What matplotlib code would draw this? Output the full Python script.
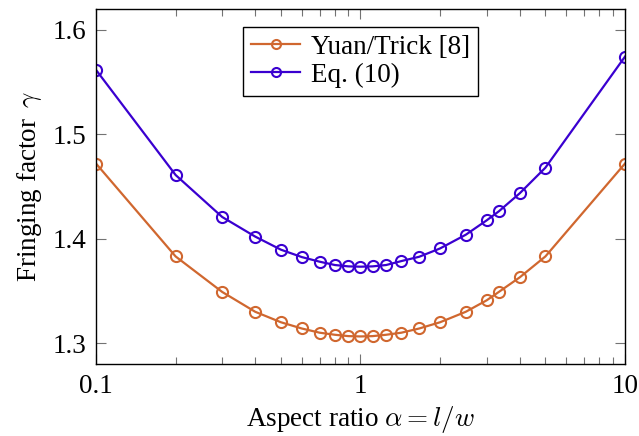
import matplotlib
matplotlib.use('Agg')
import matplotlib.pyplot as plt
from matplotlib.ticker import LogLocator, NullFormatter

# 字体设置
plt.rcParams['font.family'] = ['Liberation Serif', 'DejaVu Serif']
plt.rcParams['mathtext.fontset'] = 'cm'

# 数据
aspect = [0.1, 0.2, 0.3, 0.4, 0.5, 0.6, 0.7, 0.8, 0.9, 1.0,
          1 / 0.9, 1.25, 1 / 0.7, 1 / 0.6, 2.0, 2.5, 3.0, 1 / 0.3, 4.0, 5.0, 10.0]
yuan_trick = [1.472, 1.383, 1.349, 1.330, 1.320, 1.314, 1.310, 1.308, 1.3067, 1.3064,
              1.3067, 1.308, 1.310, 1.314, 1.320, 1.330, 1.341, 1.349, 1.363, 1.383, 1.472]
eq10 = [1.5617, 1.461, 1.4208, 1.402, 1.3895, 1.3824, 1.378, 1.3748, 1.3735, 1.3732,
        1.3735, 1.3748, 1.3786, 1.3827, 1.3907, 1.4038, 1.4176, 1.4262, 1.4435, 1.468, 1.5744]
x_ticks = [0.1, 1, 10]
x_tick_labels = ['0.1', '1', '10']
y_ticks = [1.3, 1.4, 1.5, 1.6]
y_tick_labels = ['1.3', '1.4', '1.5', '1.6']

orange = '#d0672f'
blue = '#3a00d0'
fs = 19.5

fig = plt.figure(figsize=(6.39, 4.36), dpi=100)
ax = fig.add_axes([96 / 639, 1 - 364 / 436, (625 - 96) / 639, (364 - 9) / 436])

ax.plot(aspect, yuan_trick, color=orange, linewidth=1.6, marker='o', markersize=8,
        markerfacecolor='none', markeredgewidth=1.5, label='Yuan/Trick [8]')
ax.plot(aspect, eq10, color=blue, linewidth=1.6, marker='o', markersize=8,
        markerfacecolor='none', markeredgewidth=1.5, label='Eq. (10)')

ax.set_xscale('log')
ax.set_xlim(0.1, 10)
ax.set_ylim(1.28, 1.62)

ax.set_xticks(x_ticks)
ax.set_xticklabels(x_tick_labels)
ax.xaxis.set_minor_locator(LogLocator(base=10, subs=range(2, 10)))
ax.xaxis.set_minor_formatter(NullFormatter())
ax.set_yticks(y_ticks)
ax.set_yticklabels(y_tick_labels)

ax.tick_params(which='both', direction='in', top=True, right=True, color='0.45', width=0.8,
               labelsize=fs)
ax.tick_params(which='major', length=7.5, pad=7)
ax.tick_params(which='minor', length=5)

for sp in ax.spines.values():
    sp.set_linewidth(1.0)
    sp.set_color('black')

ax.set_xlabel(r'Aspect ratio $\alpha = l/w$', fontsize=fs, labelpad=4)
ax.set_ylabel(r'Fringing factor $\,\gamma$', fontsize=fs, labelpad=6)

leg = ax.legend(loc='upper center', bbox_to_anchor=(0.5, 0.95), fontsize=fs, frameon=True,
                fancybox=False, framealpha=1, edgecolor='black', handlelength=1.8,
                handletextpad=0.4, borderpad=0.3, labelspacing=0.1, borderaxespad=0)
leg.get_frame().set_linewidth(1.0)
for h in leg.legend_handles:
    h.set_markersize(6.5)

fig.savefig('out.png', dpi=100)
